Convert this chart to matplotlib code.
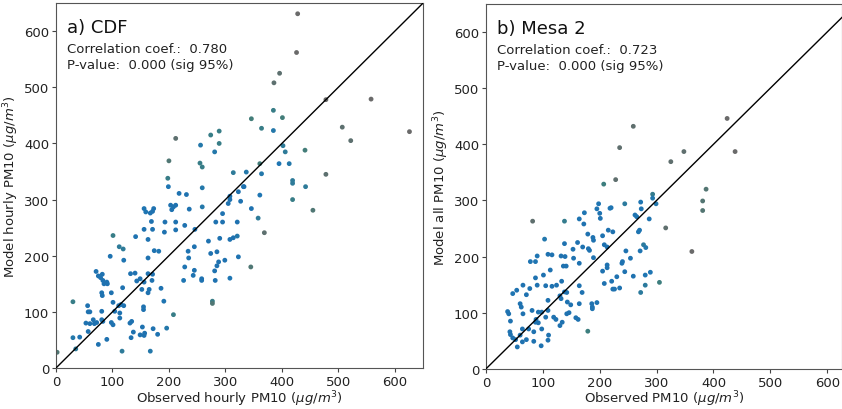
import numpy as np
import matplotlib
matplotlib.use('Agg')
import matplotlib.pyplot as plt
from matplotlib.colors import LinearSegmentedColormap

# panel a) CDF : observed vs model hourly PM10
obs_a = [428, 426, 396, 386, 558, 478, 507, 522, 626, 385, 401, 346, 385, 364, 402, 406,
         395, 413, 419, 419, 441, 442, 419, 455, 478, 361, 364, 361, 337, 332, 346, 358,
         369, 345, 212, 200, 198, 199, 218, 203, 208, 212, 205, 231, 236, 256, 255, 259,
         259, 259, 274, 289, 289, 281, 314, 308, 308, 305, 295, 295, 283, 290, 308, 314,
         321, 327, 333, 323, 321, 323, 308, 299, 285, 288, 285, 281, 282, 274, 270, 277,
         277, 228, 212, 212, 193, 192, 246, 245, 234, 235, 228, 226, 245, 243, 258, 258,
         173, 171, 167, 182, 186, 191, 208, 196, 180, 172, 167, 157, 156, 153, 149, 137,
         133, 134, 131, 155, 155, 163, 165, 163, 163, 163, 169, 171, 174, 170, 171, 156,
         149, 152, 143, 140, 132, 141, 156, 159, 156, 2, 30, 30, 42, 35, 56, 57, 60, 53,
         57, 60, 68, 72, 66, 75, 71, 75, 79, 82, 83, 85, 90, 81, 82, 81, 81, 83, 90, 96,
         98, 101, 101, 98, 101, 104, 111, 113, 113, 115, 118, 117, 120, 112, 119, 120, 91]
mod_a = [631, 562, 525, 508, 479, 478, 429, 405, 421, 459, 446, 444, 423, 427, 396, 385,
         364, 364, 334, 329, 388, 323, 300, 281, 345, 364, 346, 308, 349, 323, 284, 267,
         241, 180, 409, 369, 338, 323, 311, 290, 287, 290, 282, 309, 283, 397, 365, 358,
         321, 287, 415, 422, 400, 385, 348, 306, 300, 293, 275, 260, 260, 231, 229, 232,
         260, 297, 323, 314, 235, 198, 160, 192, 207, 189, 182, 173, 156, 204, 226, 119,
         115, 254, 246, 260, 260, 242, 247, 216, 208, 196, 180, 156, 174, 165, 159, 156,
         284, 279, 276, 208, 142, 119, 95, 71, 60, 70, 30, 62, 58, 73, 59, 64,
         54, 83, 80, 104, 109, 134, 140, 168, 196, 229, 261, 247, 209, 156, 167, 153,
         159, 140, 155, 169, 168, 234, 247, 278, 284, 28, 118, 54, 55, 34, 111, 100, 100, 80,
         65, 79, 79, 81, 86, 42, 172, 164, 161, 167, 156, 150, 153, 134, 129, 101, 86, 83, 51, 199,
         134, 236, 117, 81, 77, 101, 111, 98, 89, 113, 143, 30, 111, 216, 212, 192, 150]

# panel b) Mesa 2 : observed vs model all PM10
obs_b = [424, 438, 348, 325, 259, 235, 228, 207, 387, 381, 381, 362, 293, 293, 299, 272,
         273, 244, 220, 198, 195, 200, 201, 173, 164, 172, 82, 138, 103, 90, 78, 87,
         109, 116, 138, 132, 136, 141, 139, 154, 153, 161, 170, 179, 188, 189, 180, 182,
         164, 189, 205, 208, 213, 215, 223, 218, 205, 213, 213, 208, 221, 223, 226, 235,
         230, 239, 240, 244, 246, 254, 259, 262, 265, 268, 270, 271, 277, 281, 287, 289,
         280, 280, 272, 305, 316, 164, 169, 164, 158, 162, 179, 186, 187, 195, 187, 143,
         149, 146, 142, 142, 138, 133, 130, 130, 134, 132, 124, 116, 109, 109, 105, 119,
         123, 110, 109, 98, 97, 92, 88, 87, 92, 84, 84, 81, 71, 65, 60, 62, 54, 47,
         65, 75, 71, 64, 64, 60, 52, 55, 43, 47, 38, 40, 42, 43, 98, 105, 101, 113,
         90, 87, 77]
mod_b = [446, 387, 387, 369, 432, 394, 337, 329, 320, 299, 282, 209, 311, 304, 294, 297,
         285, 294, 287, 294, 285, 277, 268, 278, 267, 258, 263, 263, 231, 201, 191, 191,
         204, 203, 223, 201, 183, 183, 200, 197, 213, 225, 217, 240, 234, 229, 214, 211,
         188, 198, 237, 221, 217, 247, 244, 286, 174, 185, 180, 152, 156, 142, 142, 144,
         164, 188, 191, 173, 210, 197, 165, 274, 271, 244, 247, 210, 221, 216, 267, 172,
         167, 149, 136, 154, 251, 148, 136, 116, 91, 88, 67, 116, 110, 118, 107, 119,
         114, 100, 98, 136, 137, 156, 130, 77, 83, 125, 149, 147, 122, 104, 92, 92,
         88, 60, 51, 71, 41, 101, 88, 83, 82, 66, 49, 104, 132, 98, 116, 110, 140, 134,
         149, 71, 52, 71, 48, 60, 52, 39, 61, 55, 102, 98, 66, 85, 101, 148, 167, 176,
         149, 162, 143]


def density(x, y, r=45):
    x = np.asarray(x, float)
    y = np.asarray(y, float)
    d = np.hypot(x[:, None] - x[None, :], y[:, None] - y[None, :])
    return (d < r).sum(axis=1)


cmap = LinearSegmentedColormap.from_list('dens', ['#6a6a6a', '#3f7f7a', '#1f77b4', '#1f72b0'])

fig = plt.figure(figsize=(8.42, 4.10), dpi=100)
ax1 = fig.add_axes([0.0665, 0.100, 0.4359, 0.890])
ax2 = fig.add_axes([0.5772, 0.098, 0.4228, 0.890])

panels = [
    (ax1, obs_a, mod_a, 'a) CDF', '0.780', 'Observed hourly PM10', 'Model hourly PM10', 650),
    (ax2, obs_b, mod_b, 'b) Mesa 2', '0.723', 'Observed PM10', 'Model all PM10', 626),
]

for ax, xo, ym, title, corr, xlab, ylab, xmax in panels:
    dens = density(xo, ym)
    ax.scatter(xo, ym, c=dens, cmap=cmap, vmin=1, vmax=dens.max() * 0.45, s=12,
               edgecolors='none', zorder=2)
    ax.plot([0, 650], [0, 650], color='black', lw=1.0, zorder=3)
    ax.set_xlim(0, xmax)
    ax.set_ylim(0, 650)
    ax.set_xticks(range(0, 601, 100))
    ax.set_yticks(range(0, 601, 100))
    ax.tick_params(labelsize=9.5, length=3, color='#444444', labelcolor='#222222', pad=2)
    for sp in ax.spines.values():
        sp.set_color('#555555')
        sp.set_linewidth(0.8)
    ax.set_xlabel(xlab + r' ($\mu g/m^3$)', fontsize=9.5, color='#222222', labelpad=0)
    ax.set_ylabel(ylab + r' ($\mu g/m^3$)', fontsize=9.5, color='#222222', labelpad=2)
    ax.text(0.03, 0.92, title, transform=ax.transAxes, fontsize=13, color='#111111')
    ax.text(0.03, 0.866, 'Correlation coef.:  ' + corr, transform=ax.transAxes,
            fontsize=9.5, color='#222222')
    ax.text(0.03, 0.822, 'P-value:  0.000 (sig 95%)', transform=ax.transAxes,
            fontsize=9.5, color='#222222')

fig.savefig('out.png', dpi=100)
